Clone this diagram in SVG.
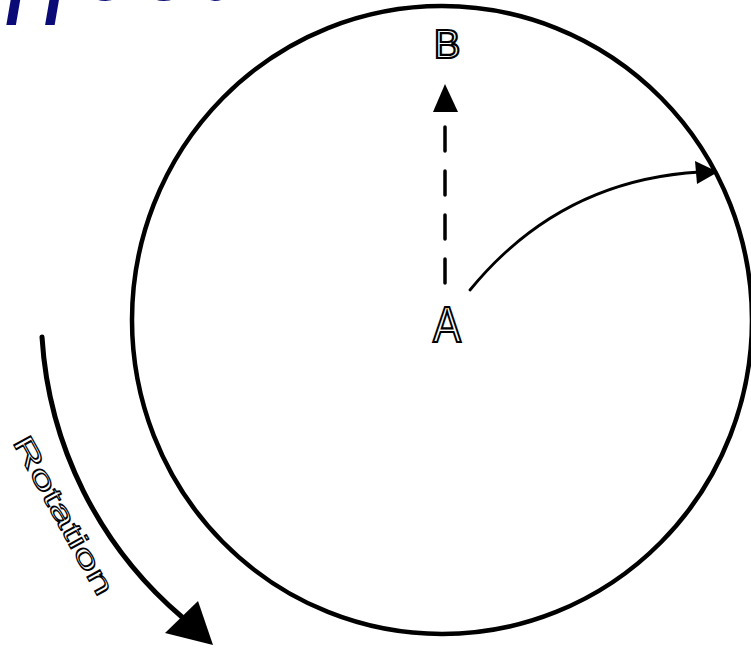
<svg xmlns="http://www.w3.org/2000/svg" width="751" height="650" viewBox="0 0 751 650">
<style>
.ln{fill:none;stroke:#000;stroke-linecap:round}
.lbl{font-family:"Liberation Sans",Arial,sans-serif;fill:#fff;stroke:#000;stroke-width:2.2;text-anchor:middle}
</style>
<rect width="751" height="650" fill="#fff"/>
<text x="5" y="0" font-family="Liberation Serif,'Times New Roman',serif" font-style="italic" font-size="118" letter-spacing="6" fill="#0b0b78">ffect</text>
<g id="earth">
<ellipse cx="442" cy="320" rx="310" ry="314" class="ln" stroke-width="4.5"/>
</g>
<g id="pointB"><text class="lbl" x="447" y="58" font-size="40" stroke-width="2.6">B</text></g>
<g id="pointA"><text class="lbl" x="447" y="342" font-size="50" stroke-width="2.8" textLength="28" lengthAdjust="spacingAndGlyphs">A</text></g>
<g id="rotationLabel"><text x="0" y="0" transform="translate(12,442) rotate(61)" font-family="'Liberation Sans',Arial,sans-serif" font-size="28" fill="#fff" stroke="#000" stroke-width="1.2" textLength="178" lengthAdjust="spacingAndGlyphs">Rotation</text></g>
<g id="connectors">
<line x1="445" y1="127" x2="445" y2="290" class="ln" stroke-width="3.5" stroke-dasharray="24,20" stroke-linecap="butt"/>
<path d="M445,84 L458,112 L433,112 z" fill="#000"/>
<path d="M470,290 Q560,180 700,172" class="ln" stroke-width="2.8"/>
<path d="M718,172 L695,161 L697,184 z" fill="#000"/>
<path d="M42,337 A400,400 0 0 0 182,617" class="ln" stroke-width="5"/>
<path d="M213,645 L165,633 L198,601 z" fill="#000"/>
</g>
</svg>
